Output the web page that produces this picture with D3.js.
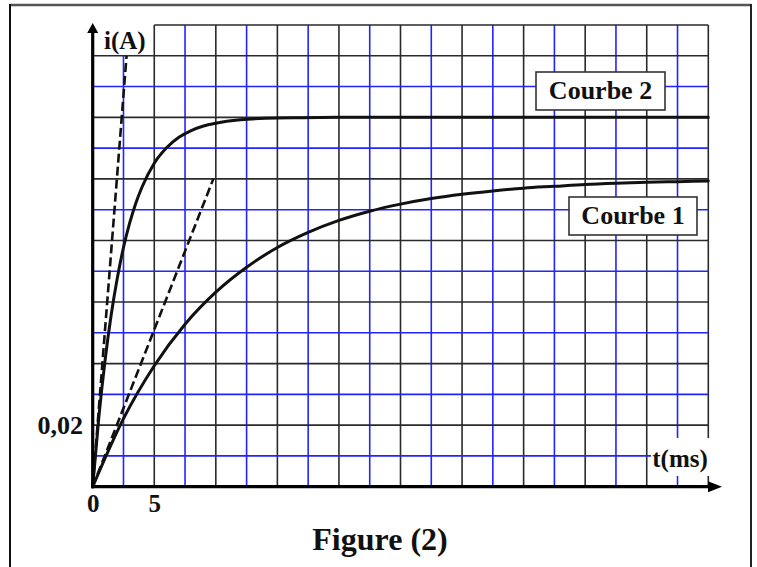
<!DOCTYPE html>
<html>
<head>
<meta charset="utf-8">
<script src="https://cdn.jsdelivr.net/npm/d3@7"></script>
<style>
  html, body { margin: 0; padding: 0; background: #fff; }
  svg { display: block; }
  text { font-family: "Liberation Serif", "Times New Roman", serif; font-weight: bold; fill: #111; }
</style>
</head>
<body>
<svg id="chart" width="757" height="567"></svg>
<script>
// ---- data ----
const curve1T = [0, 2.5, 5, 7.5, 10, 12.5, 15, 17.5, 20, 22.5, 25, 27.5, 30, 32.5, 35, 37.5, 40, 42.5, 45, 47.5, 50];
const curve1I = [0, 0.0221, 0.0393, 0.0528, 0.0632, 0.0713, 0.0777, 0.0826, 0.0865, 0.0895, 0.0918, 0.0936, 0.0950, 0.0961, 0.0970, 0.0976, 0.0982, 0.0986, 0.0989, 0.0991, 0.0993];
const curve2T = [0, 0.5, 1, 1.5, 2, 2.5, 3, 3.5, 4, 5, 6, 7, 8, 9, 10, 12, 14, 17, 20, 30, 40, 50];
const curve2I = [0, 0.0226, 0.0409, 0.0558, 0.0678, 0.0777, 0.0856, 0.0921, 0.0973, 0.1051, 0.1101, 0.1135, 0.1157, 0.1172, 0.1181, 0.1192, 0.1197, 0.1199, 0.1200, 0.1200, 0.1200, 0.1200];
const tangent1T = [0, 9.8];
const tangent1I = [0, 0.10];
const tangent2T = [0, 2.75];
const tangent2I = [0, 0.14];
const xTicks = [0, 5];
const yTicks = [0.02];
const curveLabels = ["Courbe 2", "Courbe 1"];
const xLabel = "t(ms)";
const yLabel = "i(A)";
const title = "Figure (2)";
const tStep = 2.5, iStep = 0.01, tMax = 50, iMax = 0.15;

// ---- drawing ----
const svg = d3.select("#chart");
const x = d3.scaleLinear().domain([0, tMax]).range([92.7, 708.3]);
const y = d3.scaleLinear().domain([0, iMax]).range([486.7, 25]);

// outer frame
svg.append("line").attr("x1", 10).attr("x2", 751).attr("y1", 5).attr("y2", 5)
  .attr("stroke", "#555").attr("stroke-width", 2.5);
svg.append("line").attr("x1", 10).attr("x2", 10).attr("y1", 4).attr("y2", 567)
  .attr("stroke", "#111").attr("stroke-width", 2);
svg.append("line").attr("x1", 751).attr("x2", 751).attr("y1", 4).attr("y2", 567)
  .attr("stroke", "#222").attr("stroke-width", 2);

const BLUE = "#2323ff", DARK = "#2a2a2a";
const grid = svg.append("g");
const nx = Math.round(tMax / tStep), ny = Math.round(iMax / iStep);
// vertical grid lines
d3.range(1, nx + 1).forEach(k => {
  const t = k * tStep;
  const top = (k === 1) ? (ny - 1) * iStep : iMax;
  grid.append("line")
    .attr("x1", x(t)).attr("x2", x(t)).attr("y1", y(0)).attr("y2", y(top))
    .attr("stroke", k % 2 ? BLUE : DARK).attr("stroke-width", 1.6);
});
// horizontal grid lines
d3.range(1, ny + 1).forEach(k => {
  const v = k * iStep;
  const start = (k === ny) ? 2 * tStep : 0;
  grid.append("line")
    .attr("x1", x(start)).attr("x2", x(tMax)).attr("y1", y(v)).attr("y2", y(v))
    .attr("stroke", (k % 2 && k !== ny) ? BLUE : DARK).attr("stroke-width", 1.6);
});

// white patch behind x label
svg.append("rect").attr("x", 651).attr("y", 438).attr("width", 66).attr("height", 38).attr("fill", "#fff");
svg.append("text").attr("x", 680).attr("y", 467).attr("text-anchor", "middle")
  .attr("font-size", 25).text(xLabel);

// tangents
const line = d3.line().x(d => x(d[0])).y(d => y(d[1]));
[[tangent1T, tangent1I], [tangent2T, tangent2I]].forEach(([ts, is]) => {
  svg.append("path").datum(ts.map((t, i) => [t, is[i]]))
    .attr("d", line).attr("fill", "none").attr("stroke", "#111")
    .attr("stroke-width", 2.6).attr("stroke-dasharray", "9,4");
});

// curves
const smooth = d3.line().x(d => x(d[0])).y(d => y(d[1])).curve(d3.curveMonotoneX);
[[curve1T, curve1I], [curve2T, curve2I]].forEach(([ts, is]) => {
  svg.append("path").datum(ts.map((t, i) => [t, is[i]]))
    .attr("d", smooth).attr("fill", "none").attr("stroke", "#111")
    .attr("stroke-width", 3).attr("stroke-linecap", "round");
});

// axes
svg.append("line").attr("x1", x(0)).attr("x2", x(0)).attr("y1", y(0) + 1.5).attr("y2", 30)
  .attr("stroke", "#000").attr("stroke-width", 3.2);
svg.append("path").attr("d", `M${x(0)},23 L${x(0) - 5.5},33 L${x(0) + 5.5},33 Z`).attr("fill", "#000");
svg.append("line").attr("x1", x(0) - 1.5).attr("x2", 712).attr("y1", y(0)).attr("y2", y(0))
  .attr("stroke", "#000").attr("stroke-width", 3.2);
svg.append("path").attr("d", `M722,${y(0)} L708,${y(0) - 5.5} L708,${y(0) + 5.5} Z`).attr("fill", "#000");

// tick labels via axes
const xAxis = d3.axisBottom(x).tickValues(xTicks).tickSize(0).tickPadding(0).tickFormat(d3.format("d"));
const gx = svg.append("g").attr("transform", `translate(0,${y(0)})`).call(xAxis);
gx.select(".domain").remove();
gx.selectAll("text").attr("font-size", 25).attr("dy", null).attr("y", 25)
  .style("font-family", '"Liberation Serif", serif').style("font-weight", "bold").attr("fill", "#111");

const yAxis = d3.axisLeft(y).tickValues(yTicks).tickSize(0).tickPadding(0)
  .tickFormat(d => d.toFixed(2).replace(".", ","));
const gy = svg.append("g").attr("transform", `translate(83,0)`).call(yAxis);
gy.select(".domain").remove();
gy.selectAll("text").attr("font-size", 26).attr("dy", "0.32em")
  .style("font-family", '"Liberation Serif", serif').style("font-weight", "bold").attr("fill", "#111");

// y label
svg.append("text").attr("x", 104).attr("y", 49).attr("font-size", 25).text(yLabel);

// curve label boxes
const boxes = [
  { x: 536, y: 72, w: 129, h: 38 },
  { x: 569, y: 197, w: 128, h: 38 }
];
curveLabels.forEach((lab, i) => {
  const b = boxes[i];
  svg.append("rect").attr("x", b.x).attr("y", b.y).attr("width", b.w).attr("height", b.h)
    .attr("fill", "#fff").attr("stroke", "#333").attr("stroke-width", 1.6);
  svg.append("text").attr("x", b.x + b.w / 2).attr("y", b.y + 27).attr("text-anchor", "middle")
    .attr("font-size", 26).text(lab);
});

// title
svg.append("text").attr("x", 380).attr("y", 550).attr("text-anchor", "middle")
  .attr("font-size", 32).text(title);
</script>
</body>
</html>
